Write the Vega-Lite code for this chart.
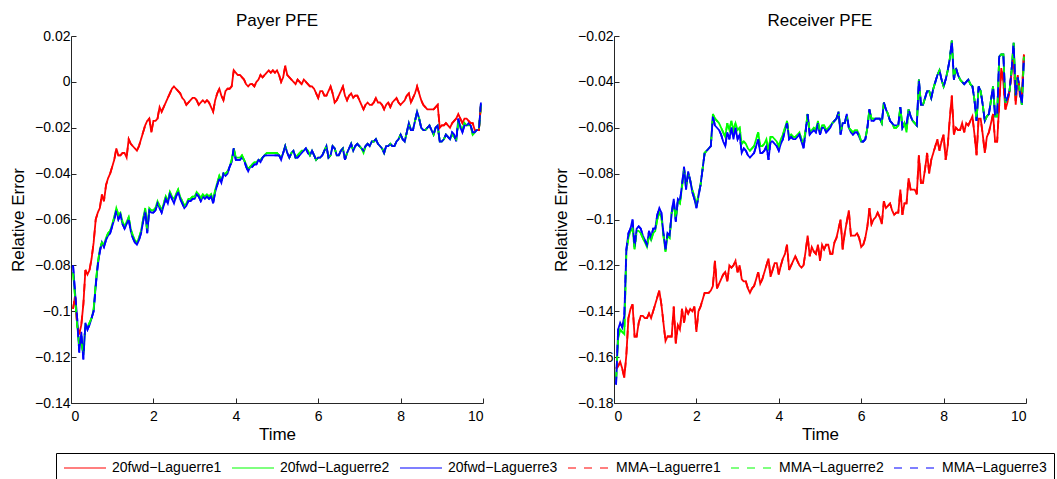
{
"$schema":"https://vega.github.io/schema/vega-lite/v6.json",
"background":"white",
"padding":{"left":9,"top":12,"right":0,"bottom":0},
"config":{
"font":"Liberation Sans",
"view":{"stroke":null},
"axis":{"labelFont":"Liberation Sans","labelFontSize":14,"labelColor":"black","titleFont":"Liberation Sans","titleFontSize":17,"titleFontWeight":"normal","titleColor":"black","domainColor":"#262626","tickColor":"#262626","tickSize":-5,"grid":false,"labelPadding":6,"titlePadding":7},
"axisX":{"labelPadding":11,"titlePadding":3},
"title":{"font":"Liberation Sans","fontSize":17,"fontWeight":"normal","color":"black","anchor":"middle","frame":"group","baseline":"alphabetic","offset":-1},
"legend":{"labelFont":"Liberation Sans","labelFontSize":14,"labelColor":"black"}
},
"datasets":{
"payer":[
{"t":0.05,"a":-0.099,"b":-0.083,"c":-0.08,"d":-0.099,"e":-0.083,"f":-0.08},
{"t":0.1,"a":-0.093,"b":-0.094,"c":-0.092,"d":-0.093,"e":-0.094,"f":-0.092},
{"t":0.15,"a":-0.106,"b":-0.106,"c":-0.103,"d":-0.106,"e":-0.106,"f":-0.103},
{"t":0.2,"a":-0.11,"b":-0.115,"c":-0.118,"d":-0.11,"e":-0.115,"f":-0.118},
{"t":0.25,"a":-0.106,"b":-0.113,"c":-0.109,"d":-0.106,"e":-0.113,"f":-0.109},
{"t":0.3,"a":-0.097,"b":-0.119,"c":-0.121,"d":-0.097,"e":-0.119,"f":-0.121},
{"t":0.35,"a":-0.082,"b":-0.106,"c":-0.105,"d":-0.082,"e":-0.106,"f":-0.105},
{"t":0.4,"a":-0.084,"b":-0.107,"c":-0.108,"d":-0.084,"e":-0.107,"f":-0.108},
{"t":0.45,"a":-0.082,"b":-0.105,"c":-0.106,"d":-0.082,"e":-0.105,"f":-0.106},
{"t":0.5,"a":-0.077,"b":-0.103,"c":-0.103,"d":-0.077,"e":-0.103,"f":-0.103},
{"t":0.55,"a":-0.07,"b":-0.099,"c":-0.1,"d":-0.07,"e":-0.099,"f":-0.1},
{"t":0.6,"a":-0.06,"b":-0.088,"c":-0.089,"d":-0.06,"e":-0.088,"f":-0.089},
{"t":0.65,"a":-0.057,"b":-0.079,"c":-0.08,"d":-0.057,"e":-0.079,"f":-0.08},
{"t":0.7,"a":-0.055,"b":-0.073,"c":-0.074,"d":-0.055,"e":-0.073,"f":-0.074},
{"t":0.75,"a":-0.049,"b":-0.07,"c":-0.07,"d":-0.049,"e":-0.07,"f":-0.07},
{"t":0.8,"a":-0.052,"b":-0.071,"c":-0.072,"d":-0.052,"e":-0.071,"f":-0.072},
{"t":0.85,"a":-0.045,"b":-0.068,"c":-0.069,"d":-0.045,"e":-0.068,"f":-0.069},
{"t":0.9,"a":-0.042,"b":-0.066,"c":-0.067,"d":-0.042,"e":-0.066,"f":-0.067},
{"t":0.95,"a":-0.04,"b":-0.065,"c":-0.066,"d":-0.04,"e":-0.065,"f":-0.066},
{"t":1.0,"a":-0.037,"b":-0.062,"c":-0.063,"d":-0.037,"e":-0.062,"f":-0.063},
{"t":1.05,"a":-0.034,"b":-0.059,"c":-0.06,"d":-0.034,"e":-0.059,"f":-0.06},
{"t":1.1,"a":-0.029,"b":-0.055,"c":-0.056,"d":-0.029,"e":-0.055,"f":-0.056},
{"t":1.15,"a":-0.032,"b":-0.058,"c":-0.06,"d":-0.032,"e":-0.058,"f":-0.06},
{"t":1.2,"a":-0.032,"b":-0.057,"c":-0.058,"d":-0.032,"e":-0.057,"f":-0.058},
{"t":1.25,"a":-0.031,"b":-0.061,"c":-0.062,"d":-0.031,"e":-0.061,"f":-0.062},
{"t":1.3,"a":-0.031,"b":-0.063,"c":-0.064,"d":-0.031,"e":-0.063,"f":-0.064},
{"t":1.35,"a":-0.033,"b":-0.061,"c":-0.062,"d":-0.033,"e":-0.061,"f":-0.062},
{"t":1.4,"a":-0.025,"b":-0.059,"c":-0.06,"d":-0.025,"e":-0.059,"f":-0.06},
{"t":1.45,"a":-0.027,"b":-0.064,"c":-0.065,"d":-0.027,"e":-0.064,"f":-0.065},
{"t":1.5,"a":-0.028,"b":-0.067,"c":-0.068,"d":-0.028,"e":-0.067,"f":-0.068},
{"t":1.55,"a":-0.029,"b":-0.069,"c":-0.07,"d":-0.029,"e":-0.069,"f":-0.07},
{"t":1.6,"a":-0.03,"b":-0.07,"c":-0.071,"d":-0.03,"e":-0.07,"f":-0.071},
{"t":1.65,"a":-0.028,"b":-0.068,"c":-0.069,"d":-0.028,"e":-0.068,"f":-0.069},
{"t":1.7,"a":-0.025,"b":-0.065,"c":-0.066,"d":-0.025,"e":-0.065,"f":-0.066},
{"t":1.75,"a":-0.022,"b":-0.06,"c":-0.061,"d":-0.022,"e":-0.06,"f":-0.061},
{"t":1.8,"a":-0.019,"b":-0.055,"c":-0.056,"d":-0.019,"e":-0.055,"f":-0.056},
{"t":1.85,"a":-0.017,"b":-0.065,"c":-0.066,"d":-0.017,"e":-0.065,"f":-0.066},
{"t":1.9,"a":-0.016,"b":-0.055,"c":-0.056,"d":-0.016,"e":-0.055,"f":-0.056},
{"t":1.95,"a":-0.022,"b":-0.056,"c":-0.057,"d":-0.022,"e":-0.056,"f":-0.057},
{"t":2.0,"a":-0.017,"b":-0.056,"c":-0.057,"d":-0.017,"e":-0.056,"f":-0.057},
{"t":2.05,"a":-0.017,"b":-0.055,"c":-0.056,"d":-0.017,"e":-0.055,"f":-0.056},
{"t":2.1,"a":-0.016,"b":-0.052,"c":-0.053,"d":-0.016,"e":-0.052,"f":-0.053},
{"t":2.15,"a":-0.011,"b":-0.054,"c":-0.055,"d":-0.011,"e":-0.054,"f":-0.055},
{"t":2.2,"a":-0.013,"b":-0.056,"c":-0.057,"d":-0.013,"e":-0.056,"f":-0.057},
{"t":2.25,"a":-0.011,"b":-0.053,"c":-0.054,"d":-0.011,"e":-0.053,"f":-0.054},
{"t":2.3,"a":-0.009,"b":-0.05,"c":-0.051,"d":-0.009,"e":-0.05,"f":-0.051},
{"t":2.35,"a":-0.007,"b":-0.052,"c":-0.053,"d":-0.007,"e":-0.052,"f":-0.053},
{"t":2.4,"a":-0.005,"b":-0.048,"c":-0.049,"d":-0.005,"e":-0.048,"f":-0.049},
{"t":2.45,"a":-0.003,"b":-0.05,"c":-0.051,"d":-0.003,"e":-0.05,"f":-0.051},
{"t":2.5,"a":-0.002,"b":-0.051,"c":-0.053,"d":-0.002,"e":-0.051,"f":-0.053},
{"t":2.55,"a":-0.003,"b":-0.049,"c":-0.05,"d":-0.003,"e":-0.049,"f":-0.05},
{"t":2.6,"a":-0.004,"b":-0.047,"c":-0.048,"d":-0.004,"e":-0.047,"f":-0.048},
{"t":2.65,"a":-0.005,"b":-0.05,"c":-0.051,"d":-0.005,"e":-0.05,"f":-0.051},
{"t":2.7,"a":-0.007,"b":-0.052,"c":-0.053,"d":-0.007,"e":-0.052,"f":-0.053},
{"t":2.75,"a":-0.008,"b":-0.054,"c":-0.055,"d":-0.008,"e":-0.054,"f":-0.055},
{"t":2.8,"a":-0.01,"b":-0.053,"c":-0.054,"d":-0.01,"e":-0.053,"f":-0.054},
{"t":2.85,"a":-0.009,"b":-0.051,"c":-0.052,"d":-0.009,"e":-0.051,"f":-0.052},
{"t":2.9,"a":-0.008,"b":-0.051,"c":-0.052,"d":-0.008,"e":-0.051,"f":-0.052},
{"t":2.95,"a":-0.007,"b":-0.05,"c":-0.051,"d":-0.007,"e":-0.05,"f":-0.051},
{"t":3.0,"a":-0.007,"b":-0.05,"c":-0.051,"d":-0.007,"e":-0.05,"f":-0.051},
{"t":3.05,"a":-0.008,"b":-0.048,"c":-0.049,"d":-0.008,"e":-0.048,"f":-0.049},
{"t":3.1,"a":-0.01,"b":-0.049,"c":-0.05,"d":-0.01,"e":-0.049,"f":-0.05},
{"t":3.15,"a":-0.009,"b":-0.051,"c":-0.052,"d":-0.009,"e":-0.051,"f":-0.052},
{"t":3.2,"a":-0.008,"b":-0.049,"c":-0.05,"d":-0.008,"e":-0.049,"f":-0.05},
{"t":3.25,"a":-0.009,"b":-0.05,"c":-0.051,"d":-0.009,"e":-0.05,"f":-0.051},
{"t":3.3,"a":-0.008,"b":-0.049,"c":-0.05,"d":-0.008,"e":-0.049,"f":-0.05},
{"t":3.35,"a":-0.009,"b":-0.05,"c":-0.051,"d":-0.009,"e":-0.05,"f":-0.051},
{"t":3.4,"a":-0.011,"b":-0.049,"c":-0.05,"d":-0.011,"e":-0.049,"f":-0.05},
{"t":3.45,"a":-0.013,"b":-0.052,"c":-0.053,"d":-0.013,"e":-0.052,"f":-0.053},
{"t":3.5,"a":-0.008,"b":-0.047,"c":-0.048,"d":-0.008,"e":-0.047,"f":-0.048},
{"t":3.55,"a":-0.005,"b":-0.044,"c":-0.045,"d":-0.005,"e":-0.044,"f":-0.045},
{"t":3.6,"a":-0.003,"b":-0.041,"c":-0.042,"d":-0.003,"e":-0.041,"f":-0.042},
{"t":3.65,"a":-0.006,"b":-0.043,"c":-0.044,"d":-0.006,"e":-0.043,"f":-0.044},
{"t":3.7,"a":-0.008,"b":-0.04,"c":-0.04,"d":-0.008,"e":-0.04,"f":-0.04},
{"t":3.75,"a":-0.004,"b":-0.04,"c":-0.041,"d":-0.004,"e":-0.04,"f":-0.041},
{"t":3.8,"a":-0.003,"b":-0.039,"c":-0.04,"d":-0.003,"e":-0.039,"f":-0.04},
{"t":3.85,"a":-0.003,"b":-0.037,"c":-0.037,"d":-0.003,"e":-0.037,"f":-0.037},
{"t":3.9,"a":-0.002,"b":-0.034,"c":-0.035,"d":-0.002,"e":-0.034,"f":-0.035},
{"t":3.95,"a":0.005,"b":-0.029,"c":-0.029,"d":0.005,"e":-0.029,"f":-0.029},
{"t":4.0,"a":0.004,"b":-0.033,"c":-0.034,"d":0.004,"e":-0.033,"f":-0.034},
{"t":4.05,"a":0.003,"b":-0.033,"c":-0.034,"d":0.003,"e":-0.033,"f":-0.034},
{"t":4.1,"a":0.003,"b":-0.033,"c":-0.034,"d":0.003,"e":-0.033,"f":-0.034},
{"t":4.15,"a":0.002,"b":-0.032,"c":-0.033,"d":0.002,"e":-0.032,"f":-0.033},
{"t":4.2,"a":0.001,"b":-0.034,"c":-0.034,"d":0.001,"e":-0.034,"f":-0.034},
{"t":4.25,"a":-0.001,"b":-0.036,"c":-0.037,"d":-0.001,"e":-0.036,"f":-0.037},
{"t":4.3,"a":-0.002,"b":-0.038,"c":-0.039,"d":-0.002,"e":-0.038,"f":-0.039},
{"t":4.35,"a":-0.001,"b":-0.037,"c":-0.037,"d":-0.001,"e":-0.037,"f":-0.037},
{"t":4.4,"a":-0.001,"b":-0.036,"c":-0.037,"d":-0.001,"e":-0.036,"f":-0.037},
{"t":4.45,"a":-0.002,"b":-0.035,"c":-0.036,"d":-0.002,"e":-0.035,"f":-0.036},
{"t":4.5,"a":0.0,"b":-0.035,"c":-0.036,"d":0.0,"e":-0.035,"f":-0.036},
{"t":4.55,"a":0.001,"b":-0.034,"c":-0.034,"d":0.001,"e":-0.034,"f":-0.034},
{"t":4.6,"a":0.003,"b":-0.034,"c":-0.035,"d":0.003,"e":-0.034,"f":-0.035},
{"t":4.65,"a":0.002,"b":-0.033,"c":-0.033,"d":0.002,"e":-0.033,"f":-0.033},
{"t":4.7,"a":0.003,"b":-0.032,"c":-0.032,"d":0.003,"e":-0.032,"f":-0.032},
{"t":4.75,"a":0.004,"b":-0.031,"c":-0.032,"d":0.004,"e":-0.031,"f":-0.032},
{"t":4.8,"a":0.005,"b":-0.031,"c":-0.032,"d":0.005,"e":-0.031,"f":-0.032},
{"t":4.85,"a":0.004,"b":-0.031,"c":-0.032,"d":0.004,"e":-0.031,"f":-0.032},
{"t":4.9,"a":0.005,"b":-0.031,"c":-0.032,"d":0.005,"e":-0.031,"f":-0.032},
{"t":4.95,"a":0.004,"b":-0.031,"c":-0.032,"d":0.004,"e":-0.031,"f":-0.032},
{"t":5.0,"a":0.005,"b":-0.031,"c":-0.032,"d":0.005,"e":-0.031,"f":-0.032},
{"t":5.05,"a":0.003,"b":-0.032,"c":-0.032,"d":0.003,"e":-0.032,"f":-0.032},
{"t":5.1,"a":0.0,"b":-0.033,"c":-0.034,"d":0.0,"e":-0.033,"f":-0.034},
{"t":5.15,"a":0.002,"b":-0.031,"c":-0.031,"d":0.002,"e":-0.031,"f":-0.031},
{"t":5.2,"a":0.007,"b":-0.028,"c":-0.028,"d":0.007,"e":-0.028,"f":-0.028},
{"t":5.25,"a":0.003,"b":-0.031,"c":-0.031,"d":0.003,"e":-0.031,"f":-0.031},
{"t":5.3,"a":0.002,"b":-0.033,"c":-0.033,"d":0.002,"e":-0.033,"f":-0.033},
{"t":5.35,"a":0.001,"b":-0.031,"c":-0.031,"d":0.001,"e":-0.031,"f":-0.031},
{"t":5.4,"a":0.0,"b":-0.03,"c":-0.03,"d":0.0,"e":-0.03,"f":-0.03},
{"t":5.45,"a":-0.001,"b":-0.033,"c":-0.033,"d":-0.001,"e":-0.033,"f":-0.033},
{"t":5.5,"a":0.001,"b":-0.032,"c":-0.033,"d":0.001,"e":-0.032,"f":-0.033},
{"t":5.55,"a":0.0,"b":-0.031,"c":-0.032,"d":0.0,"e":-0.031,"f":-0.032},
{"t":5.6,"a":-0.001,"b":-0.03,"c":-0.031,"d":-0.001,"e":-0.03,"f":-0.031},
{"t":5.65,"a":0.001,"b":-0.03,"c":-0.03,"d":0.001,"e":-0.03,"f":-0.03},
{"t":5.7,"a":0.0,"b":-0.029,"c":-0.029,"d":0.0,"e":-0.029,"f":-0.029},
{"t":5.75,"a":-0.001,"b":-0.03,"c":-0.031,"d":-0.001,"e":-0.03,"f":-0.031},
{"t":5.8,"a":-0.002,"b":-0.032,"c":-0.032,"d":-0.002,"e":-0.032,"f":-0.032},
{"t":5.85,"a":-0.002,"b":-0.03,"c":-0.03,"d":-0.002,"e":-0.03,"f":-0.03},
{"t":5.9,"a":-0.003,"b":-0.032,"c":-0.032,"d":-0.003,"e":-0.032,"f":-0.032},
{"t":5.95,"a":-0.005,"b":-0.034,"c":-0.034,"d":-0.005,"e":-0.034,"f":-0.034},
{"t":6.0,"a":-0.007,"b":-0.033,"c":-0.033,"d":-0.007,"e":-0.033,"f":-0.033},
{"t":6.05,"a":-0.004,"b":-0.033,"c":-0.033,"d":-0.004,"e":-0.033,"f":-0.033},
{"t":6.1,"a":-0.004,"b":-0.032,"c":-0.032,"d":-0.004,"e":-0.032,"f":-0.032},
{"t":6.15,"a":-0.006,"b":-0.03,"c":-0.03,"d":-0.006,"e":-0.03,"f":-0.03},
{"t":6.2,"a":-0.006,"b":-0.028,"c":-0.028,"d":-0.006,"e":-0.028,"f":-0.028},
{"t":6.25,"a":-0.004,"b":-0.033,"c":-0.033,"d":-0.004,"e":-0.033,"f":-0.033},
{"t":6.3,"a":-0.002,"b":-0.032,"c":-0.032,"d":-0.002,"e":-0.032,"f":-0.032},
{"t":6.35,"a":-0.005,"b":-0.028,"c":-0.028,"d":-0.005,"e":-0.028,"f":-0.028},
{"t":6.4,"a":-0.009,"b":-0.029,"c":-0.029,"d":-0.009,"e":-0.029,"f":-0.029},
{"t":6.45,"a":-0.008,"b":-0.032,"c":-0.032,"d":-0.008,"e":-0.032,"f":-0.032},
{"t":6.5,"a":-0.006,"b":-0.032,"c":-0.032,"d":-0.006,"e":-0.032,"f":-0.032},
{"t":6.55,"a":-0.004,"b":-0.03,"c":-0.03,"d":-0.004,"e":-0.03,"f":-0.03},
{"t":6.6,"a":-0.002,"b":-0.029,"c":-0.029,"d":-0.002,"e":-0.029,"f":-0.029},
{"t":6.65,"a":-0.006,"b":-0.034,"c":-0.034,"d":-0.006,"e":-0.034,"f":-0.034},
{"t":6.7,"a":-0.008,"b":-0.031,"c":-0.031,"d":-0.008,"e":-0.031,"f":-0.031},
{"t":6.75,"a":-0.006,"b":-0.029,"c":-0.029,"d":-0.006,"e":-0.029,"f":-0.029},
{"t":6.8,"a":-0.005,"b":-0.027,"c":-0.027,"d":-0.005,"e":-0.027,"f":-0.027},
{"t":6.85,"a":-0.007,"b":-0.03,"c":-0.03,"d":-0.007,"e":-0.03,"f":-0.03},
{"t":6.9,"a":-0.006,"b":-0.028,"c":-0.028,"d":-0.006,"e":-0.028,"f":-0.028},
{"t":6.95,"a":-0.006,"b":-0.027,"c":-0.027,"d":-0.006,"e":-0.027,"f":-0.027},
{"t":7.0,"a":-0.008,"b":-0.028,"c":-0.028,"d":-0.008,"e":-0.028,"f":-0.028},
{"t":7.05,"a":-0.01,"b":-0.029,"c":-0.029,"d":-0.01,"e":-0.029,"f":-0.029},
{"t":7.1,"a":-0.012,"b":-0.031,"c":-0.03,"d":-0.012,"e":-0.031,"f":-0.03},
{"t":7.15,"a":-0.01,"b":-0.028,"c":-0.028,"d":-0.01,"e":-0.028,"f":-0.028},
{"t":7.2,"a":-0.009,"b":-0.027,"c":-0.027,"d":-0.009,"e":-0.027,"f":-0.027},
{"t":7.25,"a":-0.01,"b":-0.028,"c":-0.028,"d":-0.01,"e":-0.028,"f":-0.028},
{"t":7.3,"a":-0.01,"b":-0.026,"c":-0.026,"d":-0.01,"e":-0.026,"f":-0.026},
{"t":7.35,"a":-0.009,"b":-0.026,"c":-0.026,"d":-0.009,"e":-0.026,"f":-0.026},
{"t":7.4,"a":-0.007,"b":-0.025,"c":-0.025,"d":-0.007,"e":-0.025,"f":-0.025},
{"t":7.45,"a":-0.009,"b":-0.027,"c":-0.027,"d":-0.009,"e":-0.027,"f":-0.027},
{"t":7.5,"a":-0.009,"b":-0.028,"c":-0.028,"d":-0.009,"e":-0.028,"f":-0.028},
{"t":7.55,"a":-0.01,"b":-0.029,"c":-0.029,"d":-0.01,"e":-0.029,"f":-0.029},
{"t":7.6,"a":-0.012,"b":-0.031,"c":-0.031,"d":-0.012,"e":-0.031,"f":-0.031},
{"t":7.65,"a":-0.01,"b":-0.028,"c":-0.028,"d":-0.01,"e":-0.028,"f":-0.028},
{"t":7.7,"a":-0.009,"b":-0.028,"c":-0.028,"d":-0.009,"e":-0.028,"f":-0.028},
{"t":7.75,"a":-0.011,"b":-0.027,"c":-0.027,"d":-0.011,"e":-0.027,"f":-0.027},
{"t":7.8,"a":-0.009,"b":-0.028,"c":-0.028,"d":-0.009,"e":-0.028,"f":-0.028},
{"t":7.85,"a":-0.008,"b":-0.028,"c":-0.028,"d":-0.008,"e":-0.028,"f":-0.028},
{"t":7.9,"a":-0.007,"b":-0.026,"c":-0.026,"d":-0.007,"e":-0.026,"f":-0.026},
{"t":7.95,"a":-0.009,"b":-0.025,"c":-0.025,"d":-0.009,"e":-0.025,"f":-0.025},
{"t":8.0,"a":-0.01,"b":-0.023,"c":-0.023,"d":-0.01,"e":-0.023,"f":-0.023},
{"t":8.05,"a":-0.009,"b":-0.025,"c":-0.025,"d":-0.009,"e":-0.025,"f":-0.025},
{"t":8.1,"a":-0.008,"b":-0.026,"c":-0.026,"d":-0.008,"e":-0.026,"f":-0.026},
{"t":8.15,"a":-0.006,"b":-0.022,"c":-0.022,"d":-0.006,"e":-0.022,"f":-0.022},
{"t":8.2,"a":-0.005,"b":-0.018,"c":-0.018,"d":-0.005,"e":-0.018,"f":-0.018},
{"t":8.25,"a":-0.009,"b":-0.021,"c":-0.021,"d":-0.009,"e":-0.021,"f":-0.021},
{"t":8.3,"a":-0.007,"b":-0.021,"c":-0.021,"d":-0.007,"e":-0.021,"f":-0.021},
{"t":8.35,"a":-0.005,"b":-0.017,"c":-0.017,"d":-0.005,"e":-0.017,"f":-0.017},
{"t":8.4,"a":-0.002,"b":-0.013,"c":-0.013,"d":-0.002,"e":-0.013,"f":-0.013},
{"t":8.45,"a":-0.005,"b":-0.016,"c":-0.016,"d":-0.005,"e":-0.016,"f":-0.016},
{"t":8.5,"a":-0.008,"b":-0.02,"c":-0.02,"d":-0.008,"e":-0.02,"f":-0.02},
{"t":8.55,"a":-0.01,"b":-0.021,"c":-0.021,"d":-0.01,"e":-0.021,"f":-0.021},
{"t":8.6,"a":-0.011,"b":-0.021,"c":-0.021,"d":-0.011,"e":-0.021,"f":-0.021},
{"t":8.65,"a":-0.012,"b":-0.02,"c":-0.02,"d":-0.012,"e":-0.02,"f":-0.02},
{"t":8.7,"a":-0.012,"b":-0.019,"c":-0.019,"d":-0.012,"e":-0.019,"f":-0.019},
{"t":8.75,"a":-0.012,"b":-0.021,"c":-0.021,"d":-0.012,"e":-0.021,"f":-0.021},
{"t":8.8,"a":-0.012,"b":-0.023,"c":-0.023,"d":-0.012,"e":-0.023,"f":-0.023},
{"t":8.85,"a":-0.011,"b":-0.02,"c":-0.02,"d":-0.011,"e":-0.02,"f":-0.02},
{"t":8.9,"a":-0.01,"b":-0.019,"c":-0.019,"d":-0.01,"e":-0.019,"f":-0.019},
{"t":8.95,"a":-0.02,"b":-0.026,"c":-0.026,"d":-0.02,"e":-0.026,"f":-0.026},
{"t":9.0,"a":-0.019,"b":-0.026,"c":-0.026,"d":-0.019,"e":-0.026,"f":-0.026},
{"t":9.05,"a":-0.019,"b":-0.025,"c":-0.025,"d":-0.019,"e":-0.025,"f":-0.025},
{"t":9.1,"a":-0.018,"b":-0.023,"c":-0.023,"d":-0.018,"e":-0.023,"f":-0.023},
{"t":9.15,"a":-0.019,"b":-0.024,"c":-0.024,"d":-0.019,"e":-0.024,"f":-0.024},
{"t":9.2,"a":-0.02,"b":-0.025,"c":-0.025,"d":-0.02,"e":-0.025,"f":-0.025},
{"t":9.25,"a":-0.018,"b":-0.023,"c":-0.022,"d":-0.018,"e":-0.023,"f":-0.022},
{"t":9.3,"a":-0.017,"b":-0.024,"c":-0.023,"d":-0.017,"e":-0.024,"f":-0.023},
{"t":9.35,"a":-0.016,"b":-0.025,"c":-0.026,"d":-0.016,"e":-0.025,"f":-0.026},
{"t":9.4,"a":-0.014,"b":-0.018,"c":-0.016,"d":-0.014,"e":-0.018,"f":-0.016},
{"t":9.45,"a":-0.016,"b":-0.019,"c":-0.02,"d":-0.016,"e":-0.019,"f":-0.02},
{"t":9.5,"a":-0.018,"b":-0.021,"c":-0.022,"d":-0.018,"e":-0.021,"f":-0.022},
{"t":9.55,"a":-0.016,"b":-0.018,"c":-0.019,"d":-0.016,"e":-0.018,"f":-0.019},
{"t":9.6,"a":-0.016,"b":-0.019,"c":-0.019,"d":-0.016,"e":-0.019,"f":-0.019},
{"t":9.65,"a":-0.017,"b":-0.019,"c":-0.018,"d":-0.017,"e":-0.019,"f":-0.018},
{"t":9.7,"a":-0.018,"b":-0.019,"c":-0.019,"d":-0.018,"e":-0.019,"f":-0.019},
{"t":9.75,"a":-0.018,"b":-0.023,"c":-0.022,"d":-0.018,"e":-0.023,"f":-0.022},
{"t":9.8,"a":-0.021,"b":-0.022,"c":-0.022,"d":-0.021,"e":-0.022,"f":-0.022},
{"t":9.85,"a":-0.021,"b":-0.021,"c":-0.021,"d":-0.021,"e":-0.021,"f":-0.021},
{"t":9.9,"a":-0.021,"b":-0.021,"c":-0.021,"d":-0.021,"e":-0.021,"f":-0.021},
{"t":9.95,"a":-0.01,"b":-0.01,"c":-0.009,"d":-0.01,"e":-0.01,"f":-0.009}
],
"receiver":[
{"t":0.05,"a":-0.165,"b":-0.17,"c":-0.172,"d":-0.165,"e":-0.17,"f":-0.172},
{"t":0.1,"a":-0.164,"b":-0.152,"c":-0.148,"d":-0.164,"e":-0.152,"f":-0.148},
{"t":0.15,"a":-0.162,"b":-0.148,"c":-0.145,"d":-0.162,"e":-0.148,"f":-0.145},
{"t":0.2,"a":-0.165,"b":-0.149,"c":-0.147,"d":-0.165,"e":-0.149,"f":-0.147},
{"t":0.25,"a":-0.169,"b":-0.15,"c":-0.142,"d":-0.169,"e":-0.15,"f":-0.142},
{"t":0.3,"a":-0.159,"b":-0.114,"c":-0.113,"d":-0.159,"e":-0.114,"f":-0.113},
{"t":0.35,"a":-0.143,"b":-0.108,"c":-0.106,"d":-0.143,"e":-0.108,"f":-0.106},
{"t":0.4,"a":-0.139,"b":-0.105,"c":-0.104,"d":-0.139,"e":-0.105,"f":-0.104},
{"t":0.45,"a":-0.137,"b":-0.104,"c":-0.1,"d":-0.137,"e":-0.104,"f":-0.1},
{"t":0.5,"a":-0.151,"b":-0.113,"c":-0.112,"d":-0.151,"e":-0.113,"f":-0.112},
{"t":0.55,"a":-0.151,"b":-0.105,"c":-0.104,"d":-0.151,"e":-0.105,"f":-0.104},
{"t":0.6,"a":-0.145,"b":-0.105,"c":-0.103,"d":-0.145,"e":-0.105,"f":-0.103},
{"t":0.65,"a":-0.142,"b":-0.106,"c":-0.104,"d":-0.142,"e":-0.106,"f":-0.104},
{"t":0.7,"a":-0.142,"b":-0.108,"c":-0.107,"d":-0.142,"e":-0.108,"f":-0.107},
{"t":0.75,"a":-0.143,"b":-0.11,"c":-0.109,"d":-0.143,"e":-0.11,"f":-0.109},
{"t":0.8,"a":-0.143,"b":-0.112,"c":-0.111,"d":-0.143,"e":-0.112,"f":-0.111},
{"t":0.85,"a":-0.141,"b":-0.107,"c":-0.105,"d":-0.141,"e":-0.107,"f":-0.105},
{"t":0.9,"a":-0.143,"b":-0.109,"c":-0.108,"d":-0.143,"e":-0.109,"f":-0.108},
{"t":0.95,"a":-0.14,"b":-0.106,"c":-0.104,"d":-0.14,"e":-0.106,"f":-0.104},
{"t":1.0,"a":-0.137,"b":-0.105,"c":-0.104,"d":-0.137,"e":-0.105,"f":-0.104},
{"t":1.05,"a":-0.134,"b":-0.1,"c":-0.098,"d":-0.134,"e":-0.1,"f":-0.098},
{"t":1.1,"a":-0.131,"b":-0.097,"c":-0.095,"d":-0.131,"e":-0.097,"f":-0.095},
{"t":1.15,"a":-0.137,"b":-0.099,"c":-0.097,"d":-0.137,"e":-0.099,"f":-0.097},
{"t":1.2,"a":-0.145,"b":-0.107,"c":-0.106,"d":-0.145,"e":-0.107,"f":-0.106},
{"t":1.25,"a":-0.153,"b":-0.114,"c":-0.113,"d":-0.153,"e":-0.114,"f":-0.113},
{"t":1.3,"a":-0.151,"b":-0.107,"c":-0.106,"d":-0.151,"e":-0.107,"f":-0.106},
{"t":1.35,"a":-0.151,"b":-0.108,"c":-0.107,"d":-0.151,"e":-0.108,"f":-0.107},
{"t":1.4,"a":-0.151,"b":-0.097,"c":-0.097,"d":-0.151,"e":-0.097,"f":-0.097},
{"t":1.45,"a":-0.138,"b":-0.093,"c":-0.091,"d":-0.138,"e":-0.093,"f":-0.091},
{"t":1.5,"a":-0.154,"b":-0.1,"c":-0.101,"d":-0.154,"e":-0.1,"f":-0.101},
{"t":1.55,"a":-0.146,"b":-0.092,"c":-0.091,"d":-0.146,"e":-0.092,"f":-0.091},
{"t":1.6,"a":-0.148,"b":-0.093,"c":-0.092,"d":-0.148,"e":-0.093,"f":-0.092},
{"t":1.65,"a":-0.139,"b":-0.086,"c":-0.085,"d":-0.139,"e":-0.086,"f":-0.085},
{"t":1.7,"a":-0.145,"b":-0.078,"c":-0.077,"d":-0.145,"e":-0.078,"f":-0.077},
{"t":1.75,"a":-0.139,"b":-0.085,"c":-0.087,"d":-0.139,"e":-0.085,"f":-0.087},
{"t":1.8,"a":-0.141,"b":-0.08,"c":-0.079,"d":-0.141,"e":-0.08,"f":-0.079},
{"t":1.85,"a":-0.139,"b":-0.083,"c":-0.083,"d":-0.139,"e":-0.083,"f":-0.083},
{"t":1.9,"a":-0.14,"b":-0.087,"c":-0.088,"d":-0.14,"e":-0.087,"f":-0.088},
{"t":1.95,"a":-0.138,"b":-0.09,"c":-0.091,"d":-0.138,"e":-0.09,"f":-0.091},
{"t":2.0,"a":-0.149,"b":-0.094,"c":-0.095,"d":-0.149,"e":-0.094,"f":-0.095},
{"t":2.05,"a":-0.14,"b":-0.089,"c":-0.09,"d":-0.14,"e":-0.089,"f":-0.09},
{"t":2.1,"a":-0.138,"b":-0.085,"c":-0.085,"d":-0.138,"e":-0.085,"f":-0.085},
{"t":2.15,"a":-0.135,"b":-0.078,"c":-0.078,"d":-0.135,"e":-0.078,"f":-0.078},
{"t":2.2,"a":-0.132,"b":-0.071,"c":-0.071,"d":-0.132,"e":-0.071,"f":-0.071},
{"t":2.25,"a":-0.132,"b":-0.07,"c":-0.07,"d":-0.132,"e":-0.07,"f":-0.07},
{"t":2.3,"a":-0.132,"b":-0.069,"c":-0.069,"d":-0.132,"e":-0.069,"f":-0.069},
{"t":2.35,"a":-0.131,"b":-0.068,"c":-0.068,"d":-0.131,"e":-0.068,"f":-0.068},
{"t":2.4,"a":-0.129,"b":-0.054,"c":-0.055,"d":-0.129,"e":-0.054,"f":-0.055},
{"t":2.45,"a":-0.118,"b":-0.056,"c":-0.059,"d":-0.118,"e":-0.056,"f":-0.059},
{"t":2.5,"a":-0.13,"b":-0.057,"c":-0.06,"d":-0.13,"e":-0.057,"f":-0.06},
{"t":2.55,"a":-0.128,"b":-0.058,"c":-0.061,"d":-0.128,"e":-0.058,"f":-0.061},
{"t":2.6,"a":-0.126,"b":-0.06,"c":-0.063,"d":-0.126,"e":-0.06,"f":-0.063},
{"t":2.65,"a":-0.124,"b":-0.062,"c":-0.066,"d":-0.124,"e":-0.062,"f":-0.066},
{"t":2.7,"a":-0.123,"b":-0.064,"c":-0.068,"d":-0.123,"e":-0.064,"f":-0.068},
{"t":2.75,"a":-0.127,"b":-0.058,"c":-0.062,"d":-0.127,"e":-0.058,"f":-0.062},
{"t":2.8,"a":-0.12,"b":-0.061,"c":-0.065,"d":-0.12,"e":-0.061,"f":-0.065},
{"t":2.85,"a":-0.121,"b":-0.057,"c":-0.06,"d":-0.121,"e":-0.057,"f":-0.06},
{"t":2.9,"a":-0.12,"b":-0.061,"c":-0.065,"d":-0.12,"e":-0.061,"f":-0.065},
{"t":2.95,"a":-0.118,"b":-0.058,"c":-0.06,"d":-0.118,"e":-0.058,"f":-0.06},
{"t":3.0,"a":-0.123,"b":-0.061,"c":-0.065,"d":-0.123,"e":-0.061,"f":-0.065},
{"t":3.05,"a":-0.12,"b":-0.06,"c":-0.063,"d":-0.12,"e":-0.06,"f":-0.063},
{"t":3.1,"a":-0.126,"b":-0.067,"c":-0.071,"d":-0.126,"e":-0.067,"f":-0.071},
{"t":3.15,"a":-0.127,"b":-0.066,"c":-0.069,"d":-0.127,"e":-0.066,"f":-0.069},
{"t":3.2,"a":-0.127,"b":-0.067,"c":-0.07,"d":-0.127,"e":-0.067,"f":-0.07},
{"t":3.25,"a":-0.13,"b":-0.069,"c":-0.072,"d":-0.13,"e":-0.069,"f":-0.072},
{"t":3.3,"a":-0.132,"b":-0.07,"c":-0.073,"d":-0.132,"e":-0.07,"f":-0.073},
{"t":3.35,"a":-0.13,"b":-0.069,"c":-0.072,"d":-0.13,"e":-0.069,"f":-0.072},
{"t":3.4,"a":-0.129,"b":-0.068,"c":-0.071,"d":-0.129,"e":-0.068,"f":-0.071},
{"t":3.45,"a":-0.126,"b":-0.065,"c":-0.068,"d":-0.126,"e":-0.065,"f":-0.068},
{"t":3.5,"a":-0.123,"b":-0.062,"c":-0.065,"d":-0.123,"e":-0.062,"f":-0.065},
{"t":3.55,"a":-0.128,"b":-0.068,"c":-0.071,"d":-0.128,"e":-0.068,"f":-0.071},
{"t":3.6,"a":-0.126,"b":-0.068,"c":-0.071,"d":-0.126,"e":-0.068,"f":-0.071},
{"t":3.65,"a":-0.123,"b":-0.067,"c":-0.07,"d":-0.123,"e":-0.067,"f":-0.07},
{"t":3.7,"a":-0.12,"b":-0.065,"c":-0.068,"d":-0.12,"e":-0.065,"f":-0.068},
{"t":3.75,"a":-0.117,"b":-0.07,"c":-0.074,"d":-0.117,"e":-0.07,"f":-0.074},
{"t":3.8,"a":-0.125,"b":-0.064,"c":-0.066,"d":-0.125,"e":-0.064,"f":-0.066},
{"t":3.85,"a":-0.122,"b":-0.064,"c":-0.066,"d":-0.122,"e":-0.064,"f":-0.066},
{"t":3.9,"a":-0.119,"b":-0.065,"c":-0.067,"d":-0.119,"e":-0.065,"f":-0.067},
{"t":3.95,"a":-0.119,"b":-0.066,"c":-0.068,"d":-0.119,"e":-0.066,"f":-0.068},
{"t":4.0,"a":-0.124,"b":-0.068,"c":-0.07,"d":-0.124,"e":-0.068,"f":-0.07},
{"t":4.05,"a":-0.12,"b":-0.065,"c":-0.067,"d":-0.12,"e":-0.065,"f":-0.067},
{"t":4.1,"a":-0.117,"b":-0.063,"c":-0.065,"d":-0.117,"e":-0.063,"f":-0.065},
{"t":4.15,"a":-0.115,"b":-0.06,"c":-0.061,"d":-0.115,"e":-0.06,"f":-0.061},
{"t":4.2,"a":-0.111,"b":-0.057,"c":-0.058,"d":-0.111,"e":-0.057,"f":-0.058},
{"t":4.25,"a":-0.122,"b":-0.064,"c":-0.065,"d":-0.122,"e":-0.064,"f":-0.065},
{"t":4.3,"a":-0.12,"b":-0.063,"c":-0.064,"d":-0.12,"e":-0.063,"f":-0.064},
{"t":4.35,"a":-0.118,"b":-0.064,"c":-0.065,"d":-0.118,"e":-0.064,"f":-0.065},
{"t":4.4,"a":-0.116,"b":-0.064,"c":-0.065,"d":-0.116,"e":-0.064,"f":-0.065},
{"t":4.45,"a":-0.118,"b":-0.063,"c":-0.064,"d":-0.118,"e":-0.063,"f":-0.064},
{"t":4.5,"a":-0.12,"b":-0.062,"c":-0.063,"d":-0.12,"e":-0.062,"f":-0.063},
{"t":4.55,"a":-0.121,"b":-0.065,"c":-0.066,"d":-0.121,"e":-0.065,"f":-0.066},
{"t":4.6,"a":-0.12,"b":-0.067,"c":-0.069,"d":-0.12,"e":-0.067,"f":-0.069},
{"t":4.65,"a":-0.114,"b":-0.061,"c":-0.062,"d":-0.114,"e":-0.061,"f":-0.062},
{"t":4.7,"a":-0.107,"b":-0.054,"c":-0.054,"d":-0.107,"e":-0.054,"f":-0.054},
{"t":4.75,"a":-0.116,"b":-0.062,"c":-0.063,"d":-0.116,"e":-0.062,"f":-0.063},
{"t":4.8,"a":-0.112,"b":-0.061,"c":-0.062,"d":-0.112,"e":-0.061,"f":-0.062},
{"t":4.85,"a":-0.114,"b":-0.06,"c":-0.061,"d":-0.114,"e":-0.06,"f":-0.061},
{"t":4.9,"a":-0.115,"b":-0.061,"c":-0.062,"d":-0.115,"e":-0.061,"f":-0.062},
{"t":4.95,"a":-0.111,"b":-0.057,"c":-0.058,"d":-0.111,"e":-0.057,"f":-0.058},
{"t":5.0,"a":-0.118,"b":-0.062,"c":-0.063,"d":-0.118,"e":-0.062,"f":-0.063},
{"t":5.05,"a":-0.111,"b":-0.059,"c":-0.06,"d":-0.111,"e":-0.059,"f":-0.06},
{"t":5.1,"a":-0.113,"b":-0.059,"c":-0.06,"d":-0.113,"e":-0.059,"f":-0.06},
{"t":5.15,"a":-0.111,"b":-0.061,"c":-0.062,"d":-0.111,"e":-0.061,"f":-0.062},
{"t":5.2,"a":-0.111,"b":-0.06,"c":-0.061,"d":-0.111,"e":-0.06,"f":-0.061},
{"t":5.25,"a":-0.115,"b":-0.059,"c":-0.06,"d":-0.115,"e":-0.059,"f":-0.06},
{"t":5.3,"a":-0.115,"b":-0.058,"c":-0.058,"d":-0.115,"e":-0.058,"f":-0.058},
{"t":5.35,"a":-0.11,"b":-0.057,"c":-0.057,"d":-0.11,"e":-0.057,"f":-0.057},
{"t":5.4,"a":-0.108,"b":-0.056,"c":-0.056,"d":-0.108,"e":-0.056,"f":-0.056},
{"t":5.45,"a":-0.104,"b":-0.053,"c":-0.053,"d":-0.104,"e":-0.053,"f":-0.053},
{"t":5.5,"a":-0.1,"b":-0.062,"c":-0.063,"d":-0.1,"e":-0.062,"f":-0.063},
{"t":5.55,"a":-0.113,"b":-0.058,"c":-0.058,"d":-0.113,"e":-0.058,"f":-0.058},
{"t":5.6,"a":-0.106,"b":-0.058,"c":-0.058,"d":-0.106,"e":-0.058,"f":-0.058},
{"t":5.65,"a":-0.101,"b":-0.055,"c":-0.054,"d":-0.101,"e":-0.055,"f":-0.054},
{"t":5.7,"a":-0.096,"b":-0.06,"c":-0.06,"d":-0.096,"e":-0.06,"f":-0.06},
{"t":5.75,"a":-0.107,"b":-0.061,"c":-0.062,"d":-0.107,"e":-0.061,"f":-0.062},
{"t":5.8,"a":-0.107,"b":-0.062,"c":-0.063,"d":-0.107,"e":-0.062,"f":-0.063},
{"t":5.85,"a":-0.107,"b":-0.061,"c":-0.062,"d":-0.107,"e":-0.061,"f":-0.062},
{"t":5.9,"a":-0.106,"b":-0.061,"c":-0.062,"d":-0.106,"e":-0.061,"f":-0.062},
{"t":5.95,"a":-0.108,"b":-0.063,"c":-0.064,"d":-0.108,"e":-0.063,"f":-0.064},
{"t":6.0,"a":-0.112,"b":-0.066,"c":-0.066,"d":-0.112,"e":-0.066,"f":-0.066},
{"t":6.05,"a":-0.111,"b":-0.066,"c":-0.066,"d":-0.111,"e":-0.066,"f":-0.066},
{"t":6.1,"a":-0.108,"b":-0.065,"c":-0.065,"d":-0.108,"e":-0.065,"f":-0.065},
{"t":6.15,"a":-0.103,"b":-0.06,"c":-0.06,"d":-0.103,"e":-0.06,"f":-0.06},
{"t":6.2,"a":-0.095,"b":-0.052,"c":-0.052,"d":-0.095,"e":-0.052,"f":-0.052},
{"t":6.25,"a":-0.102,"b":-0.056,"c":-0.057,"d":-0.102,"e":-0.056,"f":-0.057},
{"t":6.3,"a":-0.1,"b":-0.056,"c":-0.057,"d":-0.1,"e":-0.056,"f":-0.057},
{"t":6.35,"a":-0.099,"b":-0.056,"c":-0.056,"d":-0.099,"e":-0.056,"f":-0.056},
{"t":6.4,"a":-0.097,"b":-0.056,"c":-0.056,"d":-0.097,"e":-0.056,"f":-0.056},
{"t":6.45,"a":-0.099,"b":-0.056,"c":-0.056,"d":-0.099,"e":-0.056,"f":-0.056},
{"t":6.5,"a":-0.102,"b":-0.058,"c":-0.058,"d":-0.102,"e":-0.058,"f":-0.058},
{"t":6.55,"a":-0.092,"b":-0.049,"c":-0.049,"d":-0.092,"e":-0.049,"f":-0.049},
{"t":6.6,"a":-0.095,"b":-0.052,"c":-0.052,"d":-0.095,"e":-0.052,"f":-0.052},
{"t":6.65,"a":-0.094,"b":-0.054,"c":-0.054,"d":-0.094,"e":-0.054,"f":-0.054},
{"t":6.7,"a":-0.093,"b":-0.057,"c":-0.057,"d":-0.093,"e":-0.057,"f":-0.057},
{"t":6.75,"a":-0.096,"b":-0.058,"c":-0.058,"d":-0.096,"e":-0.058,"f":-0.058},
{"t":6.8,"a":-0.098,"b":-0.06,"c":-0.059,"d":-0.098,"e":-0.06,"f":-0.059},
{"t":6.85,"a":-0.097,"b":-0.06,"c":-0.059,"d":-0.097,"e":-0.06,"f":-0.059},
{"t":6.9,"a":-0.097,"b":-0.059,"c":-0.059,"d":-0.097,"e":-0.059,"f":-0.059},
{"t":6.95,"a":-0.087,"b":-0.051,"c":-0.051,"d":-0.087,"e":-0.051,"f":-0.051},
{"t":7.0,"a":-0.098,"b":-0.06,"c":-0.06,"d":-0.098,"e":-0.06,"f":-0.06},
{"t":7.05,"a":-0.093,"b":-0.058,"c":-0.058,"d":-0.093,"e":-0.058,"f":-0.058},
{"t":7.1,"a":-0.093,"b":-0.062,"c":-0.059,"d":-0.093,"e":-0.062,"f":-0.059},
{"t":7.15,"a":-0.082,"b":-0.052,"c":-0.052,"d":-0.082,"e":-0.052,"f":-0.052},
{"t":7.2,"a":-0.087,"b":-0.055,"c":-0.055,"d":-0.087,"e":-0.055,"f":-0.055},
{"t":7.25,"a":-0.087,"b":-0.057,"c":-0.057,"d":-0.087,"e":-0.057,"f":-0.057},
{"t":7.3,"a":-0.087,"b":-0.058,"c":-0.058,"d":-0.087,"e":-0.058,"f":-0.058},
{"t":7.35,"a":-0.089,"b":-0.059,"c":-0.059,"d":-0.089,"e":-0.059,"f":-0.059},
{"t":7.4,"a":-0.072,"b":-0.039,"c":-0.039,"d":-0.072,"e":-0.039,"f":-0.039},
{"t":7.45,"a":-0.084,"b":-0.05,"c":-0.05,"d":-0.084,"e":-0.05,"f":-0.05},
{"t":7.5,"a":-0.084,"b":-0.05,"c":-0.05,"d":-0.084,"e":-0.05,"f":-0.05},
{"t":7.55,"a":-0.078,"b":-0.047,"c":-0.047,"d":-0.078,"e":-0.047,"f":-0.047},
{"t":7.6,"a":-0.071,"b":-0.044,"c":-0.044,"d":-0.071,"e":-0.044,"f":-0.044},
{"t":7.65,"a":-0.08,"b":-0.044,"c":-0.044,"d":-0.08,"e":-0.044,"f":-0.044},
{"t":7.7,"a":-0.074,"b":-0.047,"c":-0.047,"d":-0.074,"e":-0.047,"f":-0.047},
{"t":7.75,"a":-0.071,"b":-0.043,"c":-0.043,"d":-0.071,"e":-0.043,"f":-0.043},
{"t":7.8,"a":-0.068,"b":-0.04,"c":-0.04,"d":-0.068,"e":-0.04,"f":-0.04},
{"t":7.85,"a":-0.065,"b":-0.037,"c":-0.037,"d":-0.065,"e":-0.037,"f":-0.037},
{"t":7.9,"a":-0.07,"b":-0.035,"c":-0.035,"d":-0.07,"e":-0.035,"f":-0.035},
{"t":7.95,"a":-0.066,"b":-0.039,"c":-0.039,"d":-0.066,"e":-0.039,"f":-0.039},
{"t":8.0,"a":-0.063,"b":-0.042,"c":-0.042,"d":-0.063,"e":-0.042,"f":-0.042},
{"t":8.05,"a":-0.074,"b":-0.039,"c":-0.039,"d":-0.074,"e":-0.039,"f":-0.039},
{"t":8.1,"a":-0.068,"b":-0.035,"c":-0.035,"d":-0.068,"e":-0.035,"f":-0.035},
{"t":8.15,"a":-0.056,"b":-0.03,"c":-0.03,"d":-0.056,"e":-0.03,"f":-0.03},
{"t":8.2,"a":-0.046,"b":-0.022,"c":-0.022,"d":-0.046,"e":-0.022,"f":-0.022},
{"t":8.25,"a":-0.063,"b":-0.039,"c":-0.039,"d":-0.063,"e":-0.039,"f":-0.039},
{"t":8.3,"a":-0.06,"b":-0.034,"c":-0.034,"d":-0.06,"e":-0.034,"f":-0.034},
{"t":8.35,"a":-0.061,"b":-0.037,"c":-0.037,"d":-0.061,"e":-0.037,"f":-0.037},
{"t":8.4,"a":-0.061,"b":-0.039,"c":-0.039,"d":-0.061,"e":-0.039,"f":-0.039},
{"t":8.45,"a":-0.058,"b":-0.04,"c":-0.04,"d":-0.058,"e":-0.04,"f":-0.04},
{"t":8.5,"a":-0.062,"b":-0.041,"c":-0.041,"d":-0.062,"e":-0.041,"f":-0.041},
{"t":8.55,"a":-0.058,"b":-0.04,"c":-0.04,"d":-0.058,"e":-0.04,"f":-0.04},
{"t":8.6,"a":-0.059,"b":-0.039,"c":-0.039,"d":-0.059,"e":-0.039,"f":-0.039},
{"t":8.65,"a":-0.057,"b":-0.041,"c":-0.041,"d":-0.057,"e":-0.041,"f":-0.041},
{"t":8.7,"a":-0.055,"b":-0.042,"c":-0.042,"d":-0.055,"e":-0.042,"f":-0.042},
{"t":8.75,"a":-0.063,"b":-0.048,"c":-0.048,"d":-0.063,"e":-0.048,"f":-0.048},
{"t":8.8,"a":-0.072,"b":-0.057,"c":-0.057,"d":-0.072,"e":-0.057,"f":-0.057},
{"t":8.85,"a":-0.056,"b":-0.042,"c":-0.042,"d":-0.056,"e":-0.042,"f":-0.042},
{"t":8.9,"a":-0.056,"b":-0.044,"c":-0.044,"d":-0.056,"e":-0.044,"f":-0.044},
{"t":8.95,"a":-0.063,"b":-0.05,"c":-0.05,"d":-0.063,"e":-0.05,"f":-0.05},
{"t":9.0,"a":-0.071,"b":-0.057,"c":-0.057,"d":-0.071,"e":-0.057,"f":-0.057},
{"t":9.05,"a":-0.064,"b":-0.055,"c":-0.055,"d":-0.064,"e":-0.055,"f":-0.055},
{"t":9.1,"a":-0.062,"b":-0.054,"c":-0.054,"d":-0.062,"e":-0.054,"f":-0.054},
{"t":9.15,"a":-0.058,"b":-0.048,"c":-0.048,"d":-0.058,"e":-0.048,"f":-0.048},
{"t":9.2,"a":-0.054,"b":-0.042,"c":-0.042,"d":-0.054,"e":-0.042,"f":-0.042},
{"t":9.25,"a":-0.066,"b":-0.055,"c":-0.055,"d":-0.066,"e":-0.055,"f":-0.055},
{"t":9.3,"a":-0.066,"b":-0.055,"c":-0.055,"d":-0.066,"e":-0.055,"f":-0.055},
{"t":9.35,"a":-0.05,"b":-0.029,"c":-0.029,"d":-0.05,"e":-0.029,"f":-0.029},
{"t":9.4,"a":-0.034,"b":-0.028,"c":-0.028,"d":-0.034,"e":-0.028,"f":-0.028},
{"t":9.45,"a":-0.04,"b":-0.028,"c":-0.028,"d":-0.04,"e":-0.028,"f":-0.028},
{"t":9.5,"a":-0.052,"b":-0.049,"c":-0.049,"d":-0.052,"e":-0.049,"f":-0.049},
{"t":9.55,"a":-0.049,"b":-0.047,"c":-0.047,"d":-0.049,"e":-0.047,"f":-0.047},
{"t":9.6,"a":-0.044,"b":-0.044,"c":-0.044,"d":-0.044,"e":-0.044,"f":-0.044},
{"t":9.65,"a":-0.036,"b":-0.035,"c":-0.035,"d":-0.036,"e":-0.035,"f":-0.035},
{"t":9.7,"a":-0.029,"b":-0.023,"c":-0.023,"d":-0.029,"e":-0.023,"f":-0.023},
{"t":9.75,"a":-0.05,"b":-0.046,"c":-0.046,"d":-0.05,"e":-0.046,"f":-0.046},
{"t":9.8,"a":-0.037,"b":-0.038,"c":-0.038,"d":-0.037,"e":-0.038,"f":-0.038},
{"t":9.85,"a":-0.046,"b":-0.044,"c":-0.044,"d":-0.046,"e":-0.044,"f":-0.044},
{"t":9.9,"a":-0.045,"b":-0.05,"c":-0.05,"d":-0.045,"e":-0.05,"f":-0.05},
{"t":9.95,"a":-0.028,"b":-0.029,"c":-0.029,"d":-0.028,"e":-0.029,"f":-0.029}
]
},
"spacing":131,
"bounds":"flush",
"resolve":{"scale":{"x":"independent","y":"independent","color":"shared","strokeDash":"shared"}},
"hconcat":[
{
"title":"Payer PFE",
"width":412,"height":367,
"data":{"name":"payer"},
"transform":[{"fold":["a","b","c","d","e","f"],"as":["k","v"]}],
"mark":{"type":"line","strokeWidth":1.8},
"encoding":{
"x":{"field":"t","type":"quantitative","scale":{"domain":[0,10],"nice":false},"axis":{"values":[0,2,4,6,8,10],"title":"Time","format":"~r"}},
"y":{"field":"v","type":"quantitative","scale":{"domain":[-0.14,0.02],"nice":false,"zero":false},"axis":{"values":[-0.14,-0.12,-0.1,-0.08,-0.06,-0.04,-0.02,0,0.02],"title":"Relative Error","format":"~r"}},
"color":{"field":"k","type":"nominal","scale":{"domain":["a","b","c","d","e","f"],"range":["#ff0000","#00ff00","#0000ff","#ff0000","#00ff00","#0000ff"]},"legend":{"orient":"none","legendX":-15,"legendY":417,"direction":"horizontal","columns":6,"title":null,"symbolType":"M-3,0H3","symbolSize":196,"symbolOffset":14,"symbolStrokeWidth":1.2,"labelFontSize":14,"labelOffset":19,"columnPadding":7,"padding":7,"strokeColor":"black","fillColor":"white","labelExpr":"datum.label=='a'?'20fwd−Laguerre1':datum.label=='b'?'20fwd−Laguerre2':datum.label=='c'?'20fwd−Laguerre3':datum.label=='d'?'MMA−Laguerre1':datum.label=='e'?'MMA−Laguerre2':'MMA−Laguerre3'"}},
"strokeDash":{"field":"k","type":"nominal","scale":{"domain":["a","b","c","d","e","f"],"range":[[1,0],[1,0],[1,0],[8,8],[8,8],[8,8]]},"legend":{"orient":"none","legendX":-15,"legendY":417,"direction":"horizontal","columns":6,"title":null,"symbolType":"M-3,0H3","symbolSize":196,"symbolOffset":14,"symbolStrokeWidth":1.2,"labelFontSize":14,"labelOffset":19,"columnPadding":7,"padding":7,"strokeColor":"black","fillColor":"white","labelExpr":"datum.label=='a'?'20fwd−Laguerre1':datum.label=='b'?'20fwd−Laguerre2':datum.label=='c'?'20fwd−Laguerre3':datum.label=='d'?'MMA−Laguerre1':datum.label=='e'?'MMA−Laguerre2':'MMA−Laguerre3'"}}
}
},
{
"title":"Receiver PFE",
"width":412,"height":367,
"data":{"name":"receiver"},
"transform":[{"fold":["a","b","c","d","e","f"],"as":["k","v"]}],
"mark":{"type":"line","strokeWidth":1.8},
"encoding":{
"x":{"field":"t","type":"quantitative","scale":{"domain":[0,10],"nice":false},"axis":{"values":[0,2,4,6,8,10],"title":"Time","format":"~r"}},
"y":{"field":"v","type":"quantitative","scale":{"domain":[-0.18,-0.02],"nice":false,"zero":false},"axis":{"values":[-0.18,-0.16,-0.14,-0.12,-0.1,-0.08,-0.06,-0.04,-0.02],"title":"Relative Error","format":"~r"}},
"color":{"field":"k","type":"nominal"},
"strokeDash":{"field":"k","type":"nominal"}
}
}
]
}
